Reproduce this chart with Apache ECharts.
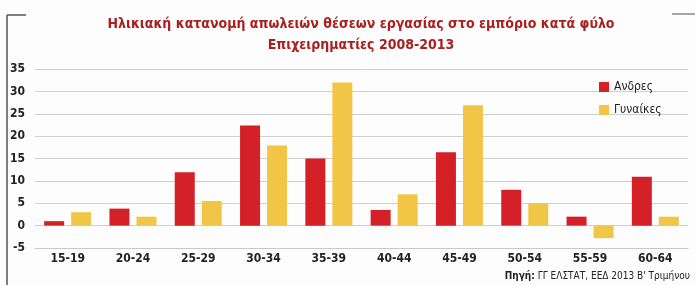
<!DOCTYPE html>
<html>
<head>
<meta charset="utf-8">
<script src="https://cdn.jsdelivr.net/npm/echarts@6/dist/echarts.min.js"></script>
<style>
  html, body { margin: 0; padding: 0; background: #fff; }
  #chart { width: 695px; height: 285px; }
</style>
</head>
<body>
<div id="chart"></div>
<script>
// age groups and losses (%) per sex
const categories = ['15-19', '20-24', '25-29', '30-34', '35-39', '40-44', '45-49', '50-54', '55-59', '60-64'];
const men = [1.0, 3.8, 11.9, 22.4, 15.0, 3.5, 16.4, 8.0, 2.0, 10.9];
const women = [3.0, 2.0, 5.5, 17.9, 32.0, 7.0, 26.9, 5.0, -2.8, 2.0];
const seriesNames = ['Ανδρες', 'Γυναίκες'];

const font = '"Liberation Sans Narrow", "DejaVu Sans Condensed", sans-serif';
const chart = echarts.init(document.getElementById('chart'));

chart.setOption({
  backgroundColor: '#fdfdfd',
  animation: false,
  textStyle: { fontFamily: font },
  title: {
    text: 'Ηλικιακή κατανομή απωλειών θέσεων εργασίας στο εμπόριο κατά φύλο\nΕπιχειρηματίες 2008-2013',
    left: 356,
    textAlign: 'center',
    top: 9,
    textStyle: { fontSize: 14, fontWeight: 'bold', color: '#a8201f', lineHeight: 21, fontFamily: font }
  },
  legend: {
    orient: 'vertical',
    left: 594,
    top: 76,
    icon: 'rect',
    itemWidth: 10,
    itemHeight: 10,
    itemGap: 11,
    data: seriesNames,
    textStyle: { fontSize: 12, color: '#222', fontFamily: font }
  },
  grid: { left: 35, right: 7, top: 69, bottom: 37 },
  xAxis: {
    type: 'category',
    data: categories,
    axisLine: { onZero: false, lineStyle: { color: '#c8c8c8' } },
    axisTick: { show: false },
    axisLabel: { fontSize: 12, fontWeight: 'bold', color: '#222', margin: 5, fontFamily: font }
  },
  yAxis: {
    type: 'value',
    min: -5,
    max: 35,
    interval: 5,
    axisLine: { show: false },
    axisTick: { show: false },
    splitLine: { lineStyle: { color: '#cfcfcf' } },
    axisLabel: { fontSize: 12, fontWeight: 'bold', color: '#222', margin: 10, fontFamily: font }
  },
  series: [
    { name: seriesNames[0], type: 'bar', data: men, barWidth: 20, barGap: '35%', itemStyle: { color: '#d42128' } },
    { name: seriesNames[1], type: 'bar', data: women, barWidth: 20, itemStyle: { color: '#f1c647' } }
  ],
  graphic: [
    { type: 'line', shape: { x1: 7, y1: 15, x2: 7, y2: 285 }, style: { stroke: '#555', lineWidth: 1.5 } },
    { type: 'line', shape: { x1: 7, y1: 15, x2: 26, y2: 15 }, style: { stroke: '#555', lineWidth: 1.5 } },
    { type: 'line', shape: { x1: 672, y1: 14, x2: 695, y2: 14 }, style: { stroke: '#888', lineWidth: 1.5 } },
    {
      type: 'text', right: 5, top: 271,
      style: {
        text: '{b|Πηγή:} ΓΓ ΕΛΣΤΑΤ, ΕΕΔ 2013 Β\' Τριμήνου',
        font: '10px ' + font,
        fill: '#222',
        rich: { b: { fontWeight: 'bold', fontSize: 10, fontFamily: font } }
      }
    }
  ]
});
</script>
</body>
</html>
